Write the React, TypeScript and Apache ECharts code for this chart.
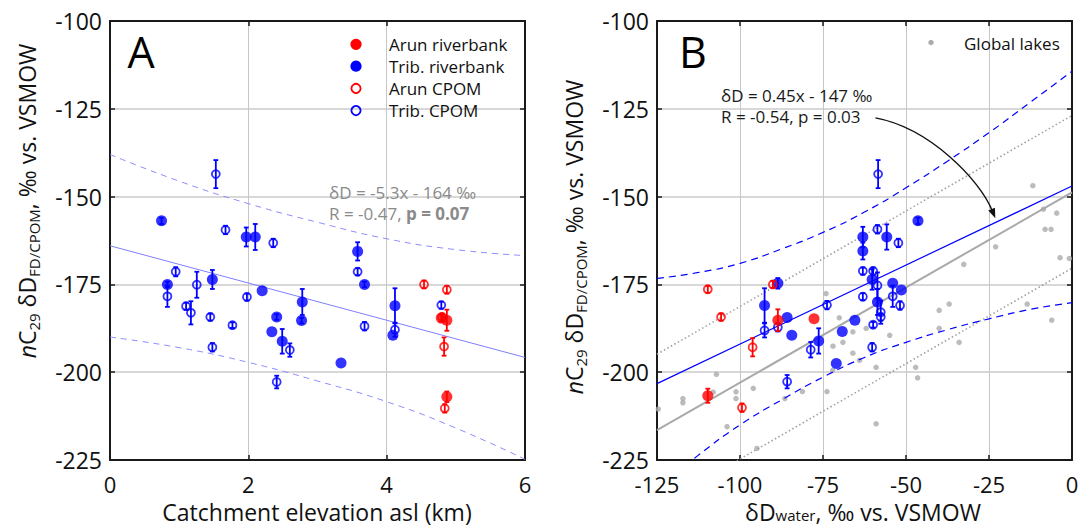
import React, { useEffect, useRef } from "react";
import * as echarts from "echarts";

const FONT = "'Open Sans', 'DejaVu Sans', sans-serif";

// ---------- axes ----------
const yMin = -225;
const yMax = -100;
const yStep = 25;
const aXMin = 0;
const aXMax = 6;
const aXStep = 2;
const bXMin = -125;
const bXMax = 0;
const bXStep = 25;

// ---------- Panel A: catchment elevation (km) vs nC29 δD (‰); [x, y, error half-width] ----------
const aArunRiverbank = [
  [4.79, -184.6, 1],
  [4.87, -185.2, 3],
  [4.87, -207.0, 1.5],
];
const aTribRiverbank = [
  [0.745, -156.9, 0.9],
  [1.97, -161.5, 2.7],
  [2.1, -161.5, 3.7],
  [0.83, -175.0, 0.8],
  [1.48, -173.6, 2.7],
  [2.2, -176.8, 0],
  [2.41, -184.3, 0.8],
  [2.34, -188.5, 0],
  [2.49, -191.2, 3.5],
  [2.78, -180.0, 3.7],
  [2.77, -185.3, 0.8],
  [3.58, -165.6, 2.6],
  [3.68, -175.0, 0.8],
  [3.34, -197.4, 0],
  [4.12, -181.1, 5],
  [4.09, -189.5, 0],
];
const aArunCpom = [
  [4.54, -175.0, 1.1],
  [4.87, -176.5, 1.1],
  [4.8, -184.3, 1],
  [4.83, -192.7, 2.6],
  [4.84, -210.3, 1.2],
];
const aTribCpom = [
  [1.53, -143.6, 4],
  [1.67, -159.5, 1.2],
  [2.36, -163.2, 1.2],
  [0.95, -171.4, 1.3],
  [0.83, -178.4, 3],
  [1.1, -181.2, 1],
  [1.17, -183.1, 3.3],
  [1.255, -175.1, 3.7],
  [1.45, -184.3, 1],
  [1.48, -192.9, 1.2],
  [1.77, -186.6, 0.8],
  [1.98, -178.6, 1],
  [2.6, -193.7, 1.9],
  [2.41, -202.8, 1.8],
  [3.58, -171.4, 1],
  [3.68, -186.9, 1.2],
  [4.12, -187.9, 2],
  [4.79, -180.9, 1],
];
const aFit = [
  [0, -164],
  [6, -195.8],
];
const aBandUpper = [
  [0, -138], [1, -145.6], [2, -152], [3, -157.3], [4, -162], [5, -165.1], [6, -166.8],
];
const aBandLower = [
  [0, -190], [1, -193], [2, -197.2], [3, -202.5], [4, -208.4], [5, -215.9], [6, -224.8],
];

// ---------- Panel B: δD water (‰) vs nC29 δD (‰) ----------
const bArunRiverbank = [
  [-88.6, -185.2, 3.1],
  [-77.7, -184.8, 0],
  [-109.7, -206.7, 2],
];
const bTribRiverbank = [
  [-46.4, -156.9, 0.9],
  [-63, -161.5, 2.9],
  [-55.8, -161.5, 3.6],
  [-63, -165.5, 2.4],
  [-60.2, -173.6, 2.9],
  [-54, -174.7, 0],
  [-51.4, -176.6, 0],
  [-58.6, -180.0, 3.7],
  [-65.4, -185.2, 0],
  [-88.6, -174.7, 1.5],
  [-92.6, -181.0, 4.9],
  [-85.8, -184.4, 0],
  [-84.4, -189.5, 0],
  [-76.3, -191.1, 3.6],
  [-71, -197.5, 0],
  [-69.2, -188.4, 0],
];
const bArunCpom = [
  [-90.1, -175.0, 1],
  [-109.7, -176.4, 1],
  [-105.7, -184.3, 1],
  [-96.2, -192.9, 2.6],
  [-99.4, -210.1, 1.2],
];
const bTribCpom = [
  [-58.4, -143.6, 4],
  [-58.6, -159.3, 1.2],
  [-52.3, -163.2, 1.2],
  [-63, -171.2, 1],
  [-59.9, -171.2, 1],
  [-58.6, -175.3, 3.7],
  [-54, -178.4, 3],
  [-63, -178.5, 1],
  [-51.8, -181.0, 1.2],
  [-57.6, -182.9, 3.3],
  [-57.6, -184.3, 1],
  [-59.9, -186.5, 0.8],
  [-60.2, -192.9, 1.2],
  [-73.8, -180.9, 1.2],
  [-78.7, -193.6, 2.2],
  [-92.6, -188.1, 2],
  [-88.6, -187.2, 1.2],
  [-85.8, -202.7, 1.9],
];
const globalLakes = [
  [-11.8, -146.9], [-8.6, -153.6], [-4.6, -154.7], [-8.1, -159.3], [-6.3, -159.3],
  [-3.6, -167.4], [-0.8, -167.6], [-23, -164.3], [-32.6, -169.3], [-37, -180.6],
  [-40, -182.4], [-40, -187.5], [-34, -191.5], [-13.5, -180.6], [-6.1, -185.2],
  [-47.1, -198.6], [-46.5, -201.6], [-59, -198.6], [-59, -214.7], [-54.9, -189.5],
  [-66, -188.5], [-62, -187.5], [-69, -191.5], [-66, -194.6], [-64, -196.6],
  [-70.1, -184.5], [-74.1, -177.6], [-72, -192.6], [-72.1, -199.5], [-73.8, -205.5],
  [-81.2, -205.5], [-86.5, -207.5], [-96, -204.6], [-101.2, -205.6], [-101.2, -207.5],
  [-107.1, -200.6], [-108.1, -205.7], [-117.2, -207.5], [-117.2, -208.7], [-124.6, -210.5],
  [-103.9, -215.5], [-94.9, -221.7],
];
const bFit = [
  [-125, -203.25],
  [0, -147],
];
const bBandUpper = [
  [-125, -173.3], [-112.5, -171.6], [-100, -169], [-87.5, -164.9], [-75, -160.2], [-62.5, -154.4],
  [-50, -147.5], [-37.5, -139.9], [-25, -131.8], [-12.5, -123.1], [0, -114.3],
];
const bBandLower = [
  [-125, -233], [-112.5, -223.6], [-100, -215], [-87.5, -207.9], [-75, -201.4], [-62.5, -195.8],
  [-50, -191.5], [-37.5, -187.9], [-25, -184.8], [-12.5, -182.1], [0, -180.2],
];
const lakesFit = [
  [-125, -216.5],
  [0, -148.8],
];
const lakesUpper = [
  [-125, -194.9],
  [0, -126.9],
];
const lakesLower = [
  [-125, -238.3],
  [0, -170.4],
];
// arrow annotation (data coords): start, control 1, control 2, tip
const arrowPts = [
  [-59.2, -127.6],
  [-42.8, -130.5],
  [-27.7, -145.3],
  [-23.1, -156.2],
];

const RED = "#ff0000";
const BLUE = "#0000ff";

function errRender(color: string) {
  return (params: any, api: any) => {
    const x = api.value(0);
    const y = api.value(1);
    const e = api.value(2);
    if (!e) return null;
    const top = api.coord([x, y + e]);
    const bot = api.coord([x, y - e]);
    const cw = 2.4;
    const style = { stroke: color, lineWidth: 1.8, fill: "none" };
    return {
      type: "group",
      children: [
        { type: "line", shape: { x1: top[0], y1: top[1], x2: bot[0], y2: bot[1] }, style },
        { type: "line", shape: { x1: top[0] - cw, y1: top[1], x2: top[0] + cw, y2: top[1] }, style },
        { type: "line", shape: { x1: bot[0] - cw, y1: bot[1], x2: bot[0] + cw, y2: bot[1] }, style },
      ],
    };
  };
}

function errSeries(data: number[][], color: string, xi: number, yi: number, z: number) {
  return {
    type: "custom",
    xAxisIndex: xi,
    yAxisIndex: yi,
    data,
    encode: { x: 0, y: 1 },
    renderItem: errRender(color),
    silent: true,
    z,
  };
}

function dotSeries(data: number[][], color: string, open: boolean, xi: number, yi: number, z: number) {
  return {
    type: "scatter",
    xAxisIndex: xi,
    yAxisIndex: yi,
    data: data.map((d) => [d[0], d[1]]),
    symbol: "circle",
    symbolSize: open ? 8 : 11,
    itemStyle: open
      ? { color: "rgba(0,0,0,0)", borderColor: color, borderWidth: 1.8 }
      : { color },
    silent: true,
    z,
  };
}

function lineSeries(data: number[][], color: string, width: number, type: any, xi: number, yi: number, smooth: boolean, z: number) {
  return {
    type: "line",
    xAxisIndex: xi,
    yAxisIndex: yi,
    data,
    showSymbol: false,
    symbol: "none",
    smooth,
    clip: true,
    lineStyle: { color, width, type },
    silent: true,
    z,
  };
}

const axisLine = { show: true, onZero: false, lineStyle: { color: "#1a1a1a", width: 2 } };
const axisTick = { show: true, inside: true, length: 5, lineStyle: { color: "#1a1a1a", width: 1.5 } };
const tickLabel = { fontFamily: FONT, fontSize: 23, color: "#111", lineHeight: 17 };

function xAxes(grid: number, min: number, max: number, step: number) {
  return [
    {
      gridIndex: grid, type: "value", min, max, interval: step, position: "bottom",
      axisLine, axisTick, axisLabel: { ...tickLabel, fontSize: 22, margin: 15 },
      splitLine: { show: true, lineStyle: { color: "#c6c6c6", width: 1 } },
    },
    {
      gridIndex: grid, type: "value", min, max, interval: step, position: "top",
      axisLine, axisTick, axisLabel: { show: false }, splitLine: { show: false },
    },
  ];
}
function yAxes(grid: number) {
  return [
    {
      gridIndex: grid, type: "value", min: yMin, max: yMax, interval: yStep, position: "left",
      axisLine, axisTick, axisLabel: { ...tickLabel, margin: 8 },
      splitLine: { show: true, lineStyle: { color: "#d8d8d8", width: 2 } },
    },
    {
      gridIndex: grid, type: "value", min: yMin, max: yMax, interval: yStep, position: "right",
      axisLine, axisTick, axisLabel: { show: false }, splitLine: { show: false },
    },
  ];
}

const yRich = {
  n: { fontSize: 23, fontFamily: FONT, fill: "#111", lineHeight: 28 },
  it: { fontSize: 23, fontFamily: FONT, fontStyle: "italic", fill: "#111", lineHeight: 28 },
  sub: { fontSize: 15, fontFamily: FONT, fill: "#111", lineHeight: 14, verticalAlign: "bottom" },
};
const xRich = {
  n: { fontSize: 23, fontFamily: FONT, fill: "#111", lineHeight: 20 },
  sub: { fontSize: 15, fontFamily: FONT, fill: "#111", lineHeight: 10, verticalAlign: "bottom" },
};
const yLabelText = "{it|n}{n|C}{sub|29}{n| δD}{sub|FD/CPOM}{n|, ‰ vs. VSMOW}";

function txt(id: string, x: number, y: number, text: string, size: number, fill: string, align = "left", extra: any = {}) {
  return {
    id, type: "text", x, y, silent: true, z: 20,
    style: { text, fontSize: size, fontFamily: FONT, fill, align, verticalAlign: "middle", ...extra },
  };
}

const legendA = [
  { label: "Arun riverbank", color: RED, open: false },
  { label: "Trib. riverbank", color: BLUE, open: false },
  { label: "Arun CPOM", color: RED, open: true },
  { label: "Trib. CPOM", color: BLUE, open: true },
];

function buildGraphics() {
  const g: any[] = [];
  g.push(txt("lblA", 141, 51, "A", 43, "#000", "center"));
  g.push(txt("lblB", 693, 51, "B", 43, "#000", "center"));
  const ly = [44.3, 66.2, 88.4, 110.6];
  legendA.forEach((it, i) => {
    g.push({
      id: "legMark" + i, type: "circle", z: 20, silent: true,
      shape: { cx: 356, cy: ly[i], r: it.open ? 4.6 : 5.6 },
      style: it.open ? { fill: "none", stroke: it.color, lineWidth: 1.8 } : { fill: it.color },
    });
    g.push(txt("legText" + i, 389, ly[i], it.label, 17, "#111"));
  });
  g.push({
    id: "lakeMark", type: "circle", z: 20, silent: true,
    shape: { cx: 931, cy: 42.5, r: 2.7 }, style: { fill: "#ababab" },
  });
  g.push(txt("lakeText", 964, 43, "Global lakes", 17, "#111"));
  g.push(txt("aEq1", 329, 192, "δD = -5.3x - 164 ‰", 17, "#8a8a8a"));
  g.push(
    txt("aEq2", 329, 213, "{n|R = -0.47, }{b|p = 0.07}", 17, "#8a8a8a", "left", {
      rich: {
        n: { fontSize: 17, fontFamily: FONT, fill: "#8a8a8a" },
        b: { fontSize: 17, fontFamily: FONT, fill: "#8a8a8a", fontWeight: "bold" },
      },
    })
  );
  g.push(txt("bEq1", 721, 95, "δD = 0.45x - 147 ‰", 17, "#1a1a1a"));
  g.push(txt("bEq2", 721, 116, "R = -0.54, p = 0.03", 17, "#1a1a1a"));
  g.push(txt("aXName", 317, 512, "Catchment elevation asl (km)", 23, "#111", "center", { lineHeight: 20 }));
  g.push(
    txt("bXName", 863, 512, "{n|δD}{sub|water}{n|, ‰ vs. VSMOW}", 23, "#111", "center", { rich: xRich })
  );
  g.push({
    ...txt("aYName", 27, 201, yLabelText, 23, "#111", "center", { rich: yRich }),
    rotation: Math.PI / 2,
  });
  g.push({
    ...txt("bYName", 574, 237, yLabelText, 23, "#111", "center", { rich: yRich }),
    rotation: Math.PI / 2,
  });
  return g;
}

const option: any = {
  animation: false,
  backgroundColor: "#ffffff",
  grid: [
    { left: 110, top: 21, width: 415, height: 439, outerBoundsMode: "none", containLabel: false },
    { left: 657, top: 21, width: 415, height: 439, outerBoundsMode: "none", containLabel: false },
  ],
  xAxis: [...xAxes(0, aXMin, aXMax, aXStep), ...xAxes(1, bXMin, bXMax, bXStep)],
  yAxis: [...yAxes(0), ...yAxes(1)],
  series: [
    // panel A lines
    lineSeries(aFit, "#7f7fff", 1, "solid", 0, 0, false, 2),
    lineSeries(aBandUpper, "#8c8cff", 1, [6, 5], 0, 0, true, 2),
    lineSeries(aBandLower, "#8c8cff", 1, [6, 5], 0, 0, true, 2),
    // panel A points
    dotSeries(aTribRiverbank, BLUE, false, 0, 0, 4),
    dotSeries(aTribCpom, BLUE, true, 0, 0, 4),
    errSeries(aTribRiverbank, BLUE, 0, 0, 5),
    errSeries(aTribCpom, BLUE, 0, 0, 5),
    dotSeries(aArunCpom, RED, true, 0, 0, 6),
    dotSeries(aArunRiverbank, RED, false, 0, 0, 6),
    errSeries(aArunCpom, RED, 0, 0, 7),
    errSeries(aArunRiverbank, RED, 0, 0, 7),
    // panel B background
    {
      type: "scatter", xAxisIndex: 2, yAxisIndex: 2, data: globalLakes, symbol: "circle",
      symbolSize: 5.5, itemStyle: { color: "#ababab" }, silent: true, z: 1,
    },
    lineSeries(lakesFit, "#a9a9a9", 2, "solid", 2, 2, false, 2),
    lineSeries(lakesUpper, "#a0a0a0", 1.6, [1.5, 2.5], 2, 2, false, 2),
    lineSeries(lakesLower, "#a0a0a0", 1.6, [1.5, 2.5], 2, 2, false, 2),
    lineSeries(bFit, BLUE, 1.2, "solid", 2, 2, false, 3),
    lineSeries(bBandUpper, BLUE, 1.2, [7, 5], 2, 2, true, 3),
    lineSeries(bBandLower, BLUE, 1.2, [7, 5], 2, 2, true, 3),
    // panel B points
    dotSeries(bTribRiverbank, BLUE, false, 2, 2, 4),
    dotSeries(bTribCpom, BLUE, true, 2, 2, 4),
    errSeries(bTribRiverbank, BLUE, 2, 2, 5),
    errSeries(bTribCpom, BLUE, 2, 2, 5),
    dotSeries(bArunCpom, RED, true, 2, 2, 6),
    dotSeries(bArunRiverbank, RED, false, 2, 2, 6),
    errSeries(bArunCpom, RED, 2, 2, 7),
    errSeries(bArunRiverbank, RED, 2, 2, 7),
  ],
  graphic: buildGraphics(),
};

export default function App() {
  const ref = useRef<HTMLDivElement>(null);
  useEffect(() => {
    if (!ref.current) return;
    const chart = echarts.init(ref.current, null, { renderer: "svg" });
    chart.setOption(option);
    const p = arrowPts.map((pt) => chart.convertToPixel({ xAxisIndex: 2, yAxisIndex: 2 } as any, pt) as number[]);
    if (p.every((q) => Array.isArray(q))) {
      const [p0, p1, p2, p3] = p;
      const dx = p3[0] - p2[0];
      const dy = p3[1] - p2[1];
      const len = Math.hypot(dx, dy) || 1;
      const ux = dx / len;
      const uy = dy / len;
      const hl = 10;
      const hw = 3.6;
      const bx = p3[0] - ux * hl;
      const by = p3[1] - uy * hl;
      chart.setOption({
        graphic: [
          {
            id: "arrowCurve", type: "bezierCurve", silent: true, z: 20,
            shape: {
              x1: p0[0], y1: p0[1], cpx1: p1[0], cpy1: p1[1],
              cpx2: p2[0], cpy2: p2[1], x2: bx + ux * 2, y2: by + uy * 2,
            },
            style: { stroke: "#111", lineWidth: 1.4, fill: "none" },
          },
          {
            id: "arrowHead", type: "polygon", silent: true, z: 20,
            shape: {
              points: [
                [p3[0], p3[1]],
                [bx - uy * hw, by + ux * hw],
                [bx + uy * hw, by - ux * hw],
              ],
            },
            style: { fill: "#111" },
          },
        ],
      });
    }
    return () => chart.dispose();
  }, []);
  return (
    <div
      ref={ref}
      style={{ position: "fixed", left: 0, top: 0, width: 1081, height: 527, background: "#fff" }}
    />
  );
}
